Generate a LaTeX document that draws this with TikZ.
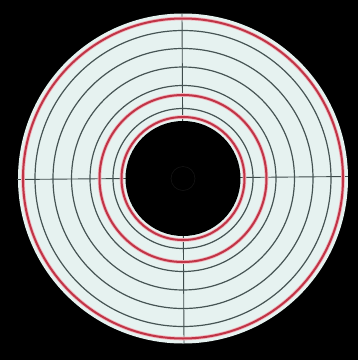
\documentclass[tikz,border=0pt]{standalone}
\usepackage{tikz}
\usetikzlibrary{calc}

\definecolor{discfill}{RGB}{230,242,240}
\definecolor{ringgray}{RGB}{70,84,84}
\definecolor{ringred}{RGB}{192,52,70}
\definecolor{ringpink}{RGB}{242,180,188}

\begin{document}
\begin{tikzpicture}[
      x=1pt, y=-1pt,
      grayring/.style={draw=ringgray, line width=1.2pt},
      redring/.style={draw=ringred, line width=2pt},
      redhalo/.style={draw=ringpink, line width=3.6pt},
      crossline/.style={draw=ringgray!90!black, line width=0.9pt}
    ]
      % background and bounding box
      \fill[black] (0,0) rectangle (358,360);
      \useasboundingbox (0,0) rectangle (358,360);

      \coordinate (c) at (183,178.5);
      \coordinate (west) at (17,179.5);
      \coordinate (east) at (348,176.5);
      \coordinate (north) at (182,14);
      \coordinate (south) at (184,343);

      % light disc
      \fill[discfill] (c) circle (165);

      % crosshair
      \draw[crossline] (west) -- (east);
      \draw[crossline] (north) -- (south);

      % gray rings
      \foreach \r in {70,93,111.5,130,148}
        \draw[grayring] (c) circle (\r);

      % red rings
      \foreach \r in {61.5,83.5,160} {
        \draw[redhalo] (c) circle (\r);
        \draw[redring] (c) circle (\r);
      }

      % dark centre
      \fill[black] (c) circle (57.5);
      \draw[black!92!white, line width=0.6pt] (c) circle (12);
    \end{tikzpicture}
\end{document}
